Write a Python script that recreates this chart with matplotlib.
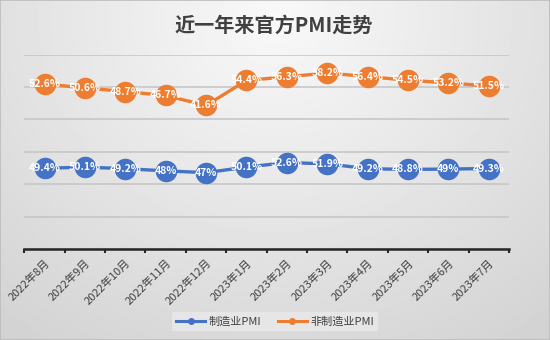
import numpy as np
import matplotlib
matplotlib.use("Agg")
import matplotlib.pyplot as plt
from matplotlib.lines import Line2D

plt.rcParams['font.family'] = ['Noto Sans CJK SC', 'DejaVu Sans']

# data
months = ['2022年8月', '2022年9月', '2022年10月', '2022年11月', '2022年12月', '2023年1月',
          '2023年2月', '2023年3月', '2023年4月', '2023年5月', '2023年6月', '2023年7月']
manu_pmi = [49.4, 50.1, 49.2, 48, 47, 50.1, 52.6, 51.9, 49.2, 48.8, 49, 49.3]
nonmanu_pmi = [52.6, 50.6, 48.7, 46.7, 41.6, 54.4, 56.3, 58.2, 56.4, 54.5, 53.2, 51.5]
title = '近一年来官方PMI走势'

blue = '#4472C4'
orange = '#ED7D31'

fig = plt.figure(figsize=(5.5, 3.4), dpi=100)

# gradient background (light centre-top, grey edges)
bg = fig.add_axes([0, 0, 1, 1], zorder=-10)
yy, xx = np.mgrid[0:1:200j, 0:1:300j]
r = np.sqrt(((xx - 0.5) / 0.75) ** 2 + ((yy - 0.05) / 1.1) ** 2)
bg.imshow(0.975 - 0.14 * r, cmap='gray', vmin=0, vmax=1, aspect='auto',
          extent=[0, 1, 0, 1], origin='upper')
bg.set_axis_off()
fig.patches.append(plt.Rectangle((0, 0), 1, 1, transform=fig.transFigure,
                                 fill=False, edgecolor='#bcbcbc', lw=1.2))

ax = fig.add_axes([0.0442, 0.2676, 0.8813, 0.572])
ax.set_facecolor('none')
x = np.arange(len(months))

# two value axes (hidden), like the Excel original
ax.set_ylim(4.6, 112.6)
ax.set_yticks(np.linspace(4.6, 112.6, 7))
ax.yaxis.grid(True, color='#c4c4c4', lw=1.1)
ax.set_axisbelow(True)
ax.tick_params(axis='y', length=0, labelleft=False)

ax.plot(x, manu_pmi, color=blue, lw=2.4, marker='o', ms=14.5, zorder=3)
for xi, v in zip(x, manu_pmi):
    ax.text(xi, v, f'{v:g}%', color='white', fontsize=7.5, ha='center', va='center',
            fontweight='bold', zorder=4)

ax2 = ax.twinx()
ax2.set_ylim(-32, 67.7)
ax2.set_axis_off()
ax2.plot(x, nonmanu_pmi, color=orange, lw=2.4, marker='o', ms=14.5, zorder=3)
for xi, v in zip(x, nonmanu_pmi):
    ax2.text(xi, v, f'{v:g}%', color='white', fontsize=7.5, ha='center', va='center',
             fontweight='bold', zorder=4)

ax.set_xlim(-0.5, len(months) - 0.5)
ax.set_xticks(x)
ax.set_xticklabels(months, rotation=45, ha='right', va='top', rotation_mode='anchor',
                   fontsize=8, color='#404040')
ax.tick_params(axis='x', which='major', length=0, pad=6)
ax.set_xticks(np.arange(-0.5, len(months)), minor=True)
ax.tick_params(axis='x', which='minor', length=3, width=1.5, color='#262626')
for s in ['top', 'right', 'left']:
    ax.spines[s].set_visible(False)
ax.spines['bottom'].set_color('#262626')
ax.spines['bottom'].set_linewidth(1.8)

fig.text(0.497, 0.925, title, ha='center', va='center', fontsize=14.5,
         fontweight='bold', color='#404040')

handles = [Line2D([], [], color=blue, lw=2.2, marker='o', ms=4),
           Line2D([], [], color=orange, lw=2.2, marker='o', ms=4)]
leg = fig.legend(handles, ['制造业PMI', '非制造业PMI'], loc='center',
                 bbox_to_anchor=(0.5, 0.055), ncol=2, fontsize=8, frameon=True,
                 handlelength=2.6, handletextpad=0.3, columnspacing=1.5,
                 borderpad=0.4)
leg.get_frame().set_facecolor('#e6e6e6')
leg.get_frame().set_edgecolor('none')
leg.get_frame().set_alpha(1)
for t in leg.get_texts():
    t.set_color('#404040')

fig.savefig('out.png', dpi=100)
